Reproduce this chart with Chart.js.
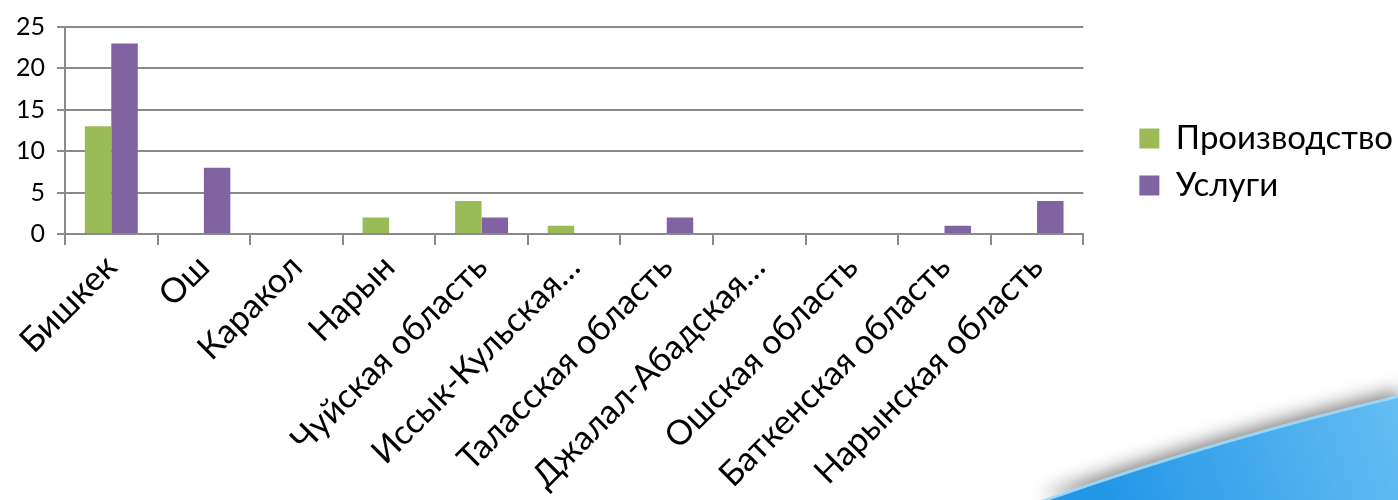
<!DOCTYPE html>
<html>
<head>
<meta charset="utf-8">
<script src="https://cdn.jsdelivr.net/npm/chart.js@4.4.1/dist/chart.umd.min.js"></script>
<style>
  html, body { margin: 0; padding: 0; background: #ffffff; }
  #wrap { width: 1398px; height: 500px; position: relative; }
</style>
</head>
<body>
<div id="wrap"><canvas id="chart" width="1398" height="500"></canvas></div>
<script>
// Regions and counts per sector
const categories = [
  'Бишкек', 'Ош', 'Каракол', 'Нарын', 'Чуйская область',
  'Иссык-Кульская\u2026', 'Таласская область', 'Джалал-Абадская\u2026',
  'Ошская область', 'Баткенская область', 'Нарынская область'
];
const production = [13, 0, 0, 2, 4, 1, 0, 0, 0, 0, 0];
const services   = [23, 8, 0, 0, 2, 0, 2, 0, 0, 1, 4];
const yTicks = [0, 5, 10, 15, 20, 25];

const FONT = 'Lato, "Noto Sans", sans-serif';
const GRID = '#8a8a8a';

// Blue corner swoosh of the slide background
const swoosh = {
  id: 'swoosh',
  beforeDraw(chart) {
    const ctx = chart.ctx;
    ctx.save();
    const path = new Path2D();
    path.moveTo(1040, 502);
    path.quadraticCurveTo(1215, 440, 1400, 396);
    path.lineTo(1400, 502);
    path.closePath();

    const g = ctx.createLinearGradient(1100, 500, 1398, 400);
    g.addColorStop(0, '#2196e6');
    g.addColorStop(1, '#66bdf3');

    ctx.shadowColor = 'rgba(0,0,0,0.5)';
    ctx.shadowBlur = 18;
    ctx.shadowOffsetY = -6;
    ctx.fillStyle = g;
    ctx.fill(path);

    ctx.shadowColor = 'transparent';
    ctx.beginPath();
    ctx.moveTo(1040, 502);
    ctx.quadraticCurveTo(1215, 440, 1400, 396);
    ctx.strokeStyle = 'rgba(160,218,250,0.9)';
    ctx.lineWidth = 3;
    ctx.stroke();
    ctx.restore();
  }
};

function build() {
  new Chart(document.getElementById('chart'), {
    type: 'bar',
    data: {
      labels: categories,
      datasets: [
        { label: 'Производство', data: production, backgroundColor: '#9bbb59',
          categoryPercentage: 0.572, barPercentage: 1.0 },
        { label: 'Услуги', data: services, backgroundColor: '#8064a2',
          categoryPercentage: 0.572, barPercentage: 1.0 }
      ]
    },
    options: {
      responsive: false,
      devicePixelRatio: 1,
      animation: false,
      layout: { padding: { top: 24, left: 0, right: -5, bottom: 0 } },
      plugins: {
        tooltip: { enabled: false },
        legend: {
          position: 'right',
          align: 'center',
          fullSize: false,
          title: { display: true, text: '', padding: 0, font: { size: 63, lineHeight: 1 } },
          labels: {
            boxWidth: 20, boxHeight: 20, padding: 14,
            color: '#000000',
            font: { family: FONT, size: 33 }
          }
        }
      },
      scales: {
        x: {
          grid: { display: true, drawOnChartArea: false, drawTicks: true, tickLength: 11,
                  color: GRID, lineWidth: 2, offset: true },
          border: { display: true, color: GRID, width: 2 },
          ticks: { autoSkip: false, minRotation: 45, maxRotation: 45, padding: 2,
                   color: '#000000', font: { family: FONT, size: 34 } },
          afterFit(scale) { scale.height = 266; }
        },
        y: {
          min: 0, max: 25,
          afterBuildTicks(scale) { scale.ticks = yTicks.map(v => ({ value: v })); },
          grid: { color: GRID, lineWidth: 2, tickLength: 8 },
          border: { display: true, color: GRID, width: 2 },
          ticks: { padding: 12, color: '#000000', font: { family: FONT, size: 25 } },
          afterFit(scale) { scale.width = 65; }
        },
        // empty band between the plot and the legend
        gap: {
          type: 'linear', position: 'right', display: false,
          afterFit(scale) { scale.width = 42; }
        }
      }
    },
    plugins: [swoosh]
  });
}

Promise.all([
  document.fonts.load('34px Lato', 'Производство'),
  document.fonts.load('25px Lato', '0123456789')
]).then(build, build);
</script>
</body>
</html>
